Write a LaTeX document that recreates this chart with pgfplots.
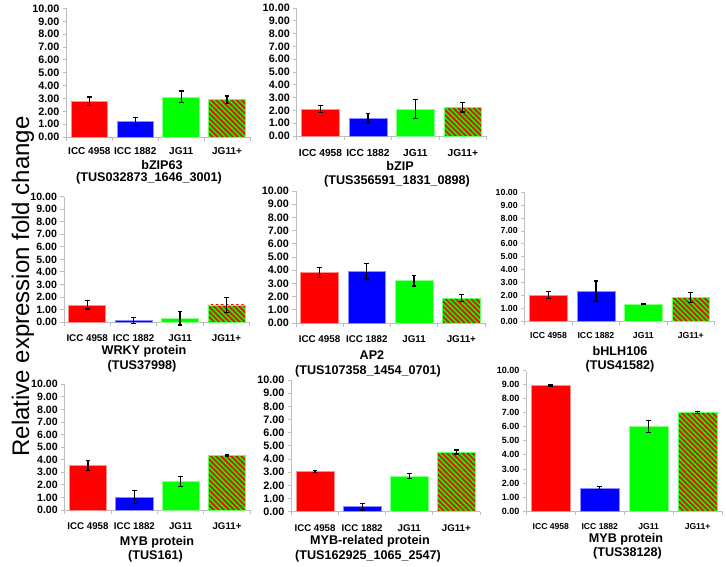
\documentclass[border=0pt]{standalone}
\usepackage{pgfplots}
\pgfplotsset{compat=1.18}
\usepackage{fontspec}
\setmainfont{Liberation Sans}
\usetikzlibrary{patterns.meta}
\definecolor{axgray}{RGB}{190,190,190}
\definecolor{cred}{RGB}{255,0,0}
\definecolor{cblue}{RGB}{0,0,255}
\definecolor{cgreen}{RGB}{0,255,0}

\pgfplotsset{
  panel/.style={
    scale only axis,
    anchor=south west,
    xmin=-0.5, xmax=3.5, ymin=0, ymax=10,
    axis x line*=bottom, axis y line*=left,
    axis line style={axgray, line width=0.8pt, -},
    tick align=outside,
    major tick length=3.5pt, minor tick length=3.5pt,
    every tick/.style={axgray, line width=0.8pt},
    ytick={0,1,...,10},
    xtick={0,1,2,3},
    xticklabels={ICC 4958, ICC 1882, JG11, JG11+},
    major x tick style={draw=none},
    minor xtick={-0.5,0.5,1.5,2.5,3.5},
    /pgf/number format/assume math mode=true,
    yticklabel style={/pgf/number format/fixed, /pgf/number format/fixed zerofill, /pgf/number format/precision=2},
    clip=false,
  },
  fnt/.style 2 args={
    xticklabel style={font=\bfseries\fontsize{#1}{#1}\selectfont, anchor=base},
    yticklabel style={font=\bfseries\fontsize{#2}{#2}\selectfont},
  },
  barA/.style={ybar, bar width=0.8, bar shift=0pt, line width=0.6pt},
  errA/.style={ybar, bar width=0.8, bar shift=0pt, draw=none, fill=none,
    error bars/.cd, y dir=both, y explicit,
    error bar style={draw=black, line width=1.3pt},
    error mark options={draw=black, rotate=90, mark size=2.4pt, line width=1.3pt}},
}

\newcommand\fourbars[8]{%
\addplot[barA, fill=cred, draw=cred!45!white] coordinates {(0,#1)};
\addplot[barA, fill=cblue, draw=cblue!45!white] coordinates {(1,#3)};
\addplot[barA, fill=cgreen, draw=cgreen!45!white] coordinates {(2,#5)};
\addplot[barA, fill=cgreen, draw=cgreen!60!white, postaction={pattern={Lines[angle=-45,distance=3.6pt,line width=1.7pt]}, pattern color=cred}] coordinates {(3,#7)};
\addplot[errA] coordinates {(0,#1) +- (0,#2) (1,#3) +- (0,#4) (2,#5) +- (0,#6) (3,#7) +- (0,#8)};
}

\begin{document}
\begin{tikzpicture}
\path[use as bounding box] (0pt,0pt) rectangle (726pt,566pt);

% P1
\begin{axis}[panel, fnt={10}{10.8}, at={(66.4pt,429pt)}, width=183.6pt, height=128.5pt,
  xticklabel style={yshift=-13.8pt}]
\fourbars{2.78}{0.33}{1.20}{0.30}{3.12}{0.46}{2.90}{0.28}
\end{axis}
% P2
\begin{axis}[panel, fnt={10.2}{10.8}, at={(296.8pt,430pt)}, width=189.7pt, height=128pt,
  xticklabel style={yshift=-16.8pt}]
\fourbars{2.10}{0.27}{1.40}{0.37}{2.10}{0.76}{2.25}{0.37}
\end{axis}
% P3
\begin{axis}[panel, fnt={9.8}{10.6}, at={(64pt,244pt)}, width=185.7pt, height=125.3pt,
  xticklabel style={yshift=-15.6pt}]
\fourbars{1.36}{0.33}{0.13}{0.25}{0.30}{0.53}{1.36}{0.60}
\end{axis}
% P4
\begin{axis}[panel, fnt={9.8}{10.8}, at={(295.9pt,243pt)}, width=189.1pt, height=132pt,
  xticklabel style={yshift=-16.1pt}]
\fourbars{3.84}{0.37}{3.92}{0.58}{3.20}{0.39}{1.89}{0.28}
\end{axis}
% P5
\begin{axis}[panel, fnt={8.7}{8.8}, at={(524.8pt,245pt)}, width=189.7pt, height=128.7pt,
  xticklabel style={yshift=-14.2pt}]
\fourbars{2.02}{0.27}{2.33}{0.77}{1.32}{0.05}{1.84}{0.40}
\end{axis}
% P6
\begin{axis}[panel, fnt={9.7}{10.6}, at={(64.8pt,56pt)}, width=185.4pt, height=125.7pt,
  xticklabel style={yshift=-15.9pt}]
\fourbars{3.53}{0.40}{1.03}{0.50}{2.25}{0.40}{4.32}{0.06}
\end{axis}
% P7
\begin{axis}[panel, fnt={9.7}{10.8}, at={(291.5pt,54.3pt)}, width=188.4pt, height=131.7pt,
  xticklabel style={yshift=-16.2pt}]
\fourbars{3.04}{0.08}{0.38}{0.25}{2.71}{0.20}{4.53}{0.15}
\end{axis}
% P8
\begin{axis}[panel, fnt={8.6}{9}, at={(526.4pt,55pt)}, width=195.6pt, height=140.3pt,
  xticklabel style={yshift=-14.5pt}]
\fourbars{8.93}{0.05}{1.64}{0.12}{6.03}{0.43}{7.00}{0.07}
\end{axis}

\tikzset{ttl/.style={anchor=base, inner sep=0pt, font=\bfseries\fontsize{12.6}{14}\selectfont}}
\node[ttl] at (162pt,396.5pt) {bZIP63};
\node[ttl] at (149pt,384.5pt) {(TUS032873\_1646\_3001)};
\node[ttl] at (400pt,395.5pt) {bZIP};
\node[ttl] at (397pt,381.5pt) {(TUS356591\_1831\_0898)};
\node[ttl] at (144pt,211.5pt) {WRKY protein};
\node[ttl] at (142pt,196.5pt) {(TUS37998)};
\node[ttl] at (372pt,206.5pt) {AP2};
\node[ttl] at (368pt,191.5pt) {(TUS107358\_1454\_0701)};
\node[ttl] at (620pt,210.5pt) {bHLH106};
\node[ttl] at (620pt,196.5pt) {(TUS41582)};
\node[ttl] at (157pt,20.5pt) {MYB protein};
\node[ttl] at (155.5pt,6.5pt) {(TUS161)};
\node[ttl] at (370pt,21.5pt) {MYB-related protein};
\node[ttl] at (368pt,6.5pt) {(TUS162925\_1065\_2547)};
\node[ttl] at (626pt,23.5pt) {MYB protein};
\node[ttl] at (627.5pt,9.5pt) {(TUS38128)};

\node[rotate=90, inner sep=0pt, font=\fontsize{24}{26}\selectfont] at (23pt,279.5pt) {Relative expression fold change};
\end{tikzpicture}
\end{document}
